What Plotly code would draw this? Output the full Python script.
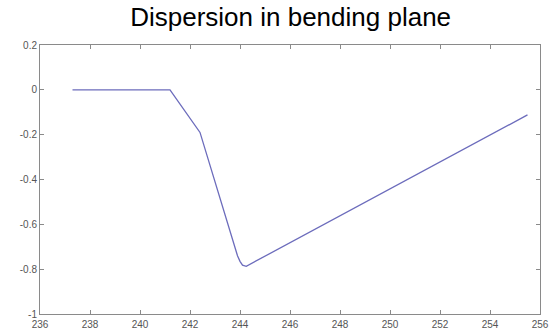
import plotly.graph_objects as go

x_vals = [237.3, 241.2, 242.4, 243.9, 244.0, 244.1, 244.25, 244.5, 255.5]
y_vals = [0.0, 0.0, -0.19, -0.74, -0.765, -0.782, -0.787, -0.772, -0.112]

x_ticks = [236, 238, 240, 242, 244, 246, 248, 250, 252, 254, 256]
y_ticks = [0.2, 0, -0.2, -0.4, -0.6, -0.8, -1]
y_tick_text = ["0.2", "0", "-0.2", "-0.4", "-0.6", "-0.8", "-1"]

fig = go.Figure(go.Scatter(x=x_vals, y=y_vals, mode="lines",
                           line=dict(color="#6c6cbc", width=1.3)))

axis_common = dict(showline=True, linecolor="#8a8a8a", linewidth=1, mirror="ticks",
                   ticks="inside", ticklen=4, tickcolor="#8a8a8a", showgrid=False,
                   zeroline=False, automargin=False,
                   tickfont=dict(family="Liberation Sans", size=10, color="#555555"))

fig.update_layout(
    width=560, height=331,
    margin=dict(l=40, r=20, t=45, b=17),
    paper_bgcolor="white", plot_bgcolor="white",
    showlegend=False,
    title=dict(text="Dispersion in bending plane", x=0.519, xanchor="center", y=0.95, yanchor="middle",
               font=dict(family="Liberation Sans", size=26, color="black")),
    xaxis=dict(range=[236, 256], tickvals=x_ticks, ticklabelstandoff=1, **axis_common),
    yaxis=dict(range=[-1, 0.2], tickvals=y_ticks, ticktext=y_tick_text, **axis_common),
)

fig.write_html("out.html", config={"displayModeBar": False},
               post_script="document.body.style.margin='0px';")
